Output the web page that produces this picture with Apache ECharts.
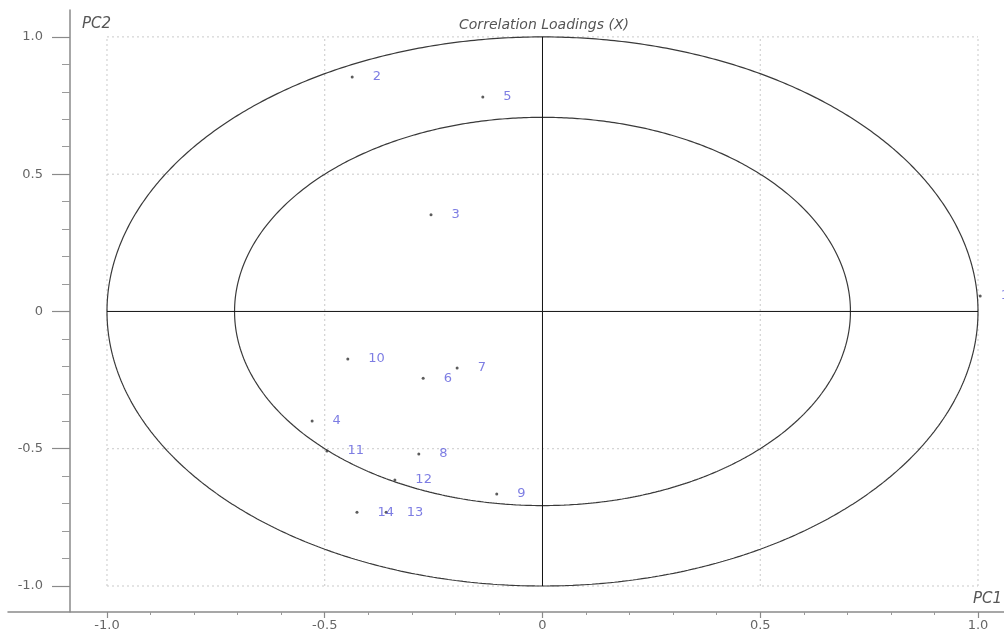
<!DOCTYPE html>
<html>
<head>
<meta charset="utf-8">
<script src="https://cdn.jsdelivr.net/npm/echarts@6/dist/echarts.min.js"></script>
<style>
  html, body { margin: 0; padding: 0; background: #fff; }
  #chart { width: 1004px; height: 639px; }
</style>
</head>
<body>
<div id="chart"></div>
<script>
// Variable numbers and their loadings on the first two components
const variableIds = ['1', '2', '3', '4', '5', '6', '7', '8', '9', '10', '11', '12', '13', '14'];
const pc1Loadings = [1.005, -0.437, -0.256, -0.529, -0.137, -0.274, -0.196, -0.284, -0.105, -0.447, -0.495, -0.339, -0.359, -0.426];
const pc2Loadings = [0.056, 0.854, 0.352, -0.399, 0.781, -0.243, -0.206, -0.519, -0.665, -0.173, -0.508, -0.614, -0.731, -0.731];

// Axis ticks and labels
const majorTicks = [-1.0, -0.5, 0, 0.5, 1.0];
const tickLabels = ['-1.0', '-0.5', '0', '0.5', '1.0'];
const minorTicks = [-0.9, -0.8, -0.7, -0.6, -0.4, -0.3, -0.2, -0.1, 0.1, 0.2, 0.3, 0.4, 0.6, 0.7, 0.8, 0.9];

// Dotted reference grid and the two correlation circles (100% and 50% explained variance)
const gridLevels = [-1.0, -0.5, 0.5, 1.0];
const circleRadii = [1.0, Math.SQRT1_2];

const X_MIN = -1.2273, X_MAX = 1.0597;
const Y_MIN = -1.0947, Y_MAX = 1.098;

const FONT = '"DejaVu Sans", Verdana, sans-serif';
const labelFor = v => {
  const i = majorTicks.findIndex(t => Math.abs(t - v) < 1e-6);
  return i >= 0 ? tickLabels[i] : '';
};

function circlePoints(r) {
  const pts = [];
  for (let k = 0; k <= 720; k++) {
    const a = (k / 720) * 2 * Math.PI;
    pts.push([r * Math.cos(a), r * Math.sin(a)]);
  }
  return pts;
}

const series = [];

// dotted grid, restricted to the unit box
gridLevels.forEach(v => {
  series.push({
    type: 'line', silent: true, symbol: 'none', animation: false,
    data: [[v, -1], [v, 1]],
    lineStyle: { color: '#c9c9c9', width: 1, type: [2, 3] }, z: 1
  });
  series.push({
    type: 'line', silent: true, symbol: 'none', animation: false,
    data: [[-1, v], [1, v]],
    lineStyle: { color: '#c9c9c9', width: 1, type: [2, 3] }, z: 1
  });
});

// circles
circleRadii.forEach(r => {
  series.push({
    type: 'line', silent: true, symbol: 'none', animation: false,
    data: circlePoints(r),
    lineStyle: { color: '#3a3a3a', width: 1.2 }, z: 2
  });
});

// crosshair through the origin
series.push({
  type: 'line', silent: true, symbol: 'none', animation: false,
  data: [[-1, 0], [1, 0]], lineStyle: { color: '#111', width: 1 }, z: 3
});
series.push({
  type: 'line', silent: true, symbol: 'none', animation: false,
  data: [[0, -1], [0, 1]], lineStyle: { color: '#111', width: 1 }, z: 3
});

// loadings
series.push({
  type: 'scatter', animation: false,
  data: variableIds.map((id, i) => ({ name: id, value: [pc1Loadings[i], pc2Loadings[i]] })),
  symbol: 'circle', symbolSize: 3,
  itemStyle: { color: '#333' },
  label: {
    show: true, position: 'right', distance: 19,
    formatter: p => p.name,
    color: '#5c5cdc', fontSize: 13, fontFamily: FONT
  },
  clip: false, z: 5
});

const chart = echarts.init(document.getElementById('chart'), null, { renderer: 'canvas' });
chart.setOption({
  backgroundColor: '#fff',
  animation: false,
  grid: { left: 8, right: 0, top: 10, bottom: 27, containLabel: false },
  xAxis: [
    {
      type: 'value', min: X_MIN, max: X_MAX, position: 'bottom',
      axisLine: { onZero: false, lineStyle: { color: '#8a8a8a', width: 1.5 } },
      axisTick: { customValues: majorTicks, length: 6, lineStyle: { color: '#8a8a8a', width: 1.2 } },
      axisLabel: { customValues: majorTicks, formatter: labelFor, margin: 7, color: '#666', fontSize: 13, fontFamily: FONT },
      splitLine: { show: false }
    },
    {
      type: 'value', min: X_MIN, max: X_MAX, position: 'bottom',
      axisLine: { show: false, onZero: false },
      axisTick: { customValues: minorTicks, length: 3, lineStyle: { color: '#9a9a9a', width: 1 } },
      axisLabel: { show: false },
      splitLine: { show: false }
    }
  ],
  yAxis: [
    {
      type: 'value', min: Y_MIN, max: Y_MAX, position: 'left', offset: -62,
      axisLine: { onZero: false, lineStyle: { color: '#8a8a8a', width: 1.5 } },
      axisTick: { customValues: majorTicks, length: 18, lineStyle: { color: '#8a8a8a', width: 1.2 } },
      axisLabel: { customValues: majorTicks, formatter: labelFor, margin: 27, color: '#666', fontSize: 13, fontFamily: FONT },
      splitLine: { show: false }
    },
    {
      type: 'value', min: Y_MIN, max: Y_MAX, position: 'left', offset: -62,
      axisLine: { show: false, onZero: false },
      axisTick: { customValues: minorTicks, length: 8, lineStyle: { color: '#9a9a9a', width: 1 } },
      axisLabel: { show: false },
      splitLine: { show: false }
    }
  ],
  graphic: [
    { type: 'text', x: 544, y: 18, style: { text: 'Correlation Loadings (X)', fill: '#555', font: 'italic 14px ' + FONT, textAlign: 'center' } },
    { type: 'text', x: 82, y: 17, style: { text: 'PC2', fill: '#555', font: 'italic 15px ' + FONT } },
    { type: 'text', x: 973, y: 592, style: { text: 'PC1', fill: '#555', font: 'italic 15px ' + FONT } }
  ],
  series: series
});
</script>
</body>
</html>
